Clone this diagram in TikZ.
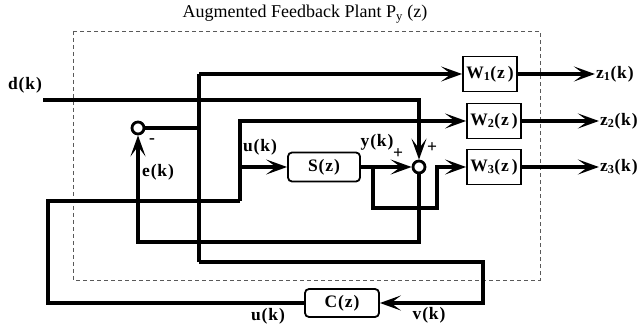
\documentclass[tikz,border=0pt]{standalone}
\usepackage{fontspec}
\setmainfont{Liberation Serif}
\newfontfamily\lblfont[LetterSpace=5]{Liberation Serif}
\usetikzlibrary{arrows.meta,calc}

\tikzset{
  sig/.style={line width=3.2pt},
  sigarr/.style={sig, -{Stealth[length=21pt,width=15pt,inset=10pt]}},
  wbox/.style={draw, line width=1.8pt, minimum width=54pt, minimum height=35pt,
    inner sep=1pt, font=\lbl},
  rbox/.style={wbox, rounded corners=4pt, minimum width=72pt, minimum height=29pt},
  sumpt/.style={circle, draw, line width=2.8pt, minimum size=12pt, inner sep=0pt, fill=white},
  lab/.style={inner sep=1pt, font=\lbl}
}
\newcommand{\lbl}{\lblfont\bfseries\fontsize{17.5}{19}\selectfont}

\begin{document}
\begin{tikzpicture}[x=1pt, y=-1pt]
  \useasboundingbox (0,0) rectangle (644,328);

  % plant frame and title
  \draw[gray!70!black, line width=0.9pt, dash pattern=on 4pt off 3pt] (73,31) rectangle (540,280);
  \node[font=\fontsize{18}{20}\selectfont] (title) at (305,14)
    {Augmented Feedback Plant P\textsubscript{y} (z)};

  % blocks
  \node[wbox] (W1) at (490,74)  {W\textsubscript{1}(z\,)};
  \node[wbox] (W2) at (494,121) {W\textsubscript{2}(z\,)};
  \node[wbox] (W3) at (494,167) {W\textsubscript{3}(z\,)};
  \node[rbox] (S) at (324,167) {S(z)};
  \node[rbox, minimum width=74pt, minimum height=28pt] (C) at (342,303) {C(z)};

  % summing points
  \node[sumpt] (sumE) at (138,128) {};
  \node[sumpt] (sumY) at (419,167) {};

  % outputs
  \foreach \i in {1,2,3}{
    \node[lab, anchor=west] (z\i) at ($(W\i.east)+(77,0)$) {z\textsubscript{\i}(k)};
    \draw[sigarr] (W\i.east) -- (z\i.west);
  }

  % corner points
  \coordinate (dk0)  at (43,100);
  \coordinate (rtop) at (199,74);
  \coordinate (rbot) at (199,262);
  \coordinate (vk)   at (483,303);
  \coordinate (uL)   at (48,201);
  \coordinate (uR)   at (240,201);
  \coordinate (yb)   at (373,167);
  \coordinate (yr)   at (437,208);
  \coordinate (eb)   at (138,242);

  % disturbance
  \node[lab] (dk) at (25,85) {d(k)};
  \draw[sigarr] (dk0) -| (sumY.north);

  % reference path to W1, error sum and controller
  \draw[sig] (rbot) -- (rtop);
  \draw[sigarr] (rtop) -- (W1.west);
  \draw[sig] (sumE.east) -- (sumE.east -| rtop);
  \draw[sigarr] (rbot) -| (vk) -- (C.east);

  % control signal
  \draw[sig] (C.west) -| (uL) -- (uR);
  \draw[sigarr] (uR) |- (W2.west);
  \draw[sigarr] (uR |- S.west) -- (S.west);

  % plant output
  \draw[sigarr] (S.east) -- (sumY.west);
  \draw[sigarr] (yb) |- (yr) |- (W3.west);

  % feedback to error sum
  \draw[sigarr] (sumY.south) |- (eb) -- (sumE.south);

  % signal labels
  \node[lab] (uk1) at (260,147) {u(k)};
  \node[lab] (yk)  at (377,142) {y(k)};
  \node[lab] (p1)  at (398,154) {+};
  \node[lab] (p2)  at (432,148) {+};
  \node[lab] (m1)  at (152,141) {-};
  \node[lab] (ek)  at (158,172) {e(k)};
  \node[lab] (uk2) at (268,316) {u(k)};
  \node[lab] (vk0) at (429,315) {v(k)};
\end{tikzpicture}
\end{document}
